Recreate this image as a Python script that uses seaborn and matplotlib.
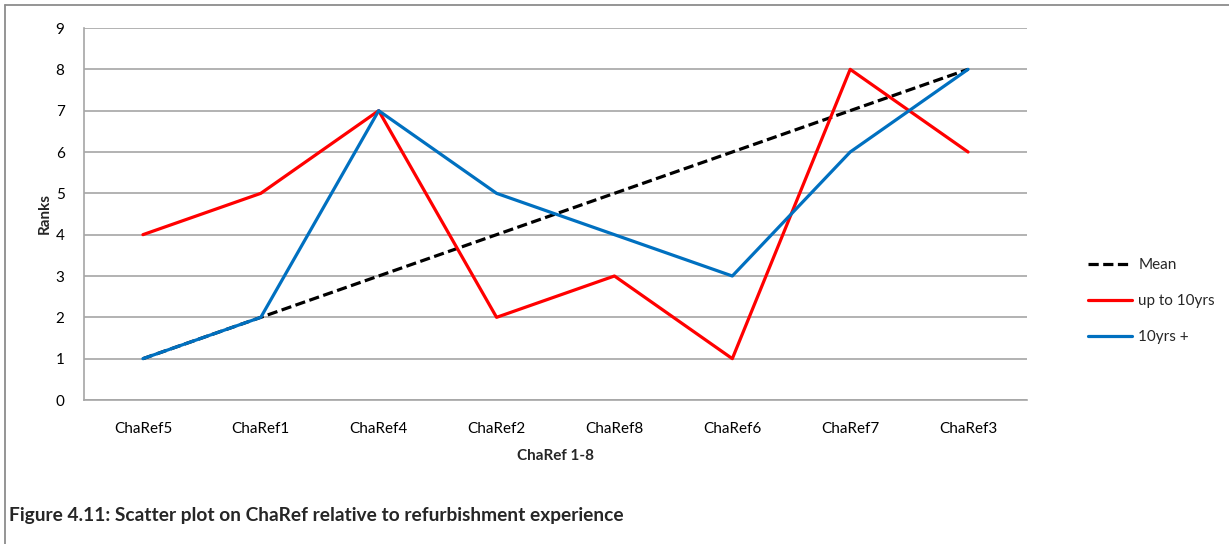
import matplotlib
matplotlib.use("Agg")
import matplotlib.pyplot as plt
from matplotlib.lines import Line2D
import seaborn as sns
import pandas as pd

categories = ["ChaRef5", "ChaRef1", "ChaRef4", "ChaRef2", "ChaRef8", "ChaRef6", "ChaRef7", "ChaRef3"]
mean_rank = [1, 2, 3, 4, 5, 6, 7, 8]
up_to_10yrs = [4, 5, 7, 2, 3, 1, 8, 6]
over_10yrs = [1, 2, 7, 5, 4, 3, 6, 8]
series_names = ["Mean", "up to 10yrs", "10yrs +"]
y_ticks = list(range(0, 10))

sns.set_theme(style="white")
plt.rcParams["font.family"] = ["Lato", "DejaVu Sans"]

df = pd.DataFrame({
    "cat": categories * 3,
    "rank": mean_rank + up_to_10yrs + over_10yrs,
    "series": [series_names[0]] * 8 + [series_names[1]] * 8 + [series_names[2]] * 8,
})

colors = {"Mean": "#000000", "up to 10yrs": "#FF0000", "10yrs +": "#0070C0"}
dashes = {"Mean": (3.2, 1.4), "up to 10yrs": "", "10yrs +": ""}

fig = plt.figure(figsize=(12.29, 5.44), dpi=100)
ax = fig.add_axes([84 / 1229, 1 - 400 / 544, (1027 - 84) / 1229, (400 - 28) / 544])

sns.lineplot(data=df, x="cat", y="rank", hue="series", style="series",
             palette=colors, dashes=dashes, linewidth=2.3, sort=False,
             legend=False, ax=ax)

ax.set_xlim(-0.5, len(categories) - 0.5)
ax.set_ylim(0, 9)
ax.set_yticks(y_ticks)
ax.yaxis.grid(True, color="#A6A6A6", linewidth=1.2)
ax.set_axisbelow(True)
for s in ["top", "right"]:
    ax.spines[s].set_visible(False)
for s in ["left", "bottom"]:
    ax.spines[s].set_color("#A6A6A6")
    ax.spines[s].set_linewidth(1.2)
ax.tick_params(axis="both", length=0, labelsize=11, colors="#000000")
ax.tick_params(axis="y", pad=14)
ax.tick_params(axis="x", pad=16)
ax.set_xlabel("ChaRef 1-8", fontsize=11, fontweight="bold", labelpad=9)
ax.set_ylabel("Ranks", fontsize=11, fontweight="bold", labelpad=3)

handles = [Line2D([0], [0], color=colors[n], linewidth=2.3,
                  linestyle=(0, (3.2, 1.4)) if n == "Mean" else "-")
           for n in series_names]
fig.legend(handles, series_names, loc="center left",
           bbox_to_anchor=(1074 / 1229, 1 - 301 / 544), frameon=False,
           fontsize=11, handlelength=2.9, handletextpad=0.4, labelspacing=1.45)

fig.text(9 / 1229, 1 - 516 / 544,
         "Figure 4.11: Scatter plot on ChaRef relative to refurbishment experience",
         fontsize=13.8, fontweight="bold", va="center", ha="left")

# outer frame lines along the top and left edges
fig.add_artist(Line2D([5 / 1229, 1], [1 - 5 / 544, 1 - 5 / 544],
                      transform=fig.transFigure, color="#8C8C8C", linewidth=1.3))
fig.add_artist(Line2D([5 / 1229, 5 / 1229], [0, 1 - 5 / 544],
                      transform=fig.transFigure, color="#8C8C8C", linewidth=1.3))

fig.savefig("out.png", dpi=100)
